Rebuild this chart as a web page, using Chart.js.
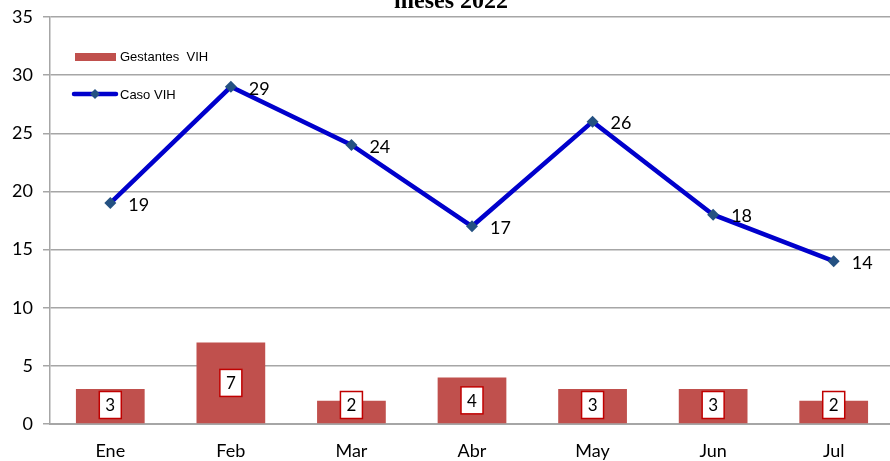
<!DOCTYPE html>
<html>
<head>
<meta charset="utf-8">
<script src="https://cdn.jsdelivr.net/npm/chart.js@4/dist/chart.umd.min.js"></script>
<style>
html,body{margin:0;padding:0;overflow:hidden;background:#fff;}
#wrap{position:absolute;left:0;top:0;width:900px;height:461px;}
</style>
</head>
<body>
<div id="wrap"><canvas id="c" width="900" height="461"></canvas></div>
<script>
const categories = ['Ene','Feb','Mar','Abr','May','Jun','Jul'];
const gestantesVIH = [3,7,2,4,3,3,2];
const casoVIH = [19,29,24,17,26,18,14];
const yTicks = [0,5,10,15,20,25,30,35];
const titleText = 'meses 2022';
const legendLabels = ['Gestantes  VIH','Caso VIH'];

const BAR = '#C0504D', LINE = '#0000CC', MARK = '#245182', GRID = '#A6A6A6';
const TICKFONT = 'Lato, "Open Sans", sans-serif';

const extras = {
  id:'extras',
  afterDatasetsDraw(chart){
    const ctx = chart.ctx;
    const y = chart.scales.y;
    const bm = chart.getDatasetMeta(1);
    bm.data.forEach((el,i)=>{
      const cy = Math.min((el.y+el.base)/2, y.getPixelForValue(0)-19);
      const w=22,h=27;
      ctx.save();
      ctx.fillStyle='#fff';
      ctx.strokeStyle='#C00000';
      ctx.lineWidth=1.5;
      ctx.fillRect(el.x-w/2,cy-h/2,w,h);
      ctx.strokeRect(el.x-w/2,cy-h/2,w,h);
      ctx.fillStyle='#000';
      ctx.font='17px '+TICKFONT;
      ctx.textAlign='center';ctx.textBaseline='middle';
      ctx.fillText(String(gestantesVIH[i]),el.x,cy+1);
      ctx.restore();
    });
    const lm = chart.getDatasetMeta(0);
    lm.data.forEach((el,i)=>{
      ctx.save();
      ctx.fillStyle='#000';
      ctx.font='18px '+TICKFONT;
      ctx.textAlign='left';ctx.textBaseline='middle';
      ctx.fillText(String(casoVIH[i]),el.x+18,el.y+2);
      ctx.restore();
    });
  },
  afterDraw(chart){
    const ctx = chart.ctx;
    ctx.save();
    ctx.fillStyle='#000';
    ctx.font='bold 24px "Liberation Serif", serif';
    ctx.textAlign='center';ctx.textBaseline='alphabetic';
    ctx.fillText(titleText,451,8);
    ctx.fillStyle=BAR;
    ctx.fillRect(75,53,41,8);
    ctx.strokeStyle=LINE;ctx.lineWidth=4.5;ctx.lineCap='round';
    ctx.beginPath();ctx.moveTo(74,94);ctx.lineTo(116,94);ctx.stroke();
    ctx.fillStyle=MARK;
    ctx.beginPath();ctx.moveTo(95,89);ctx.lineTo(100,94);ctx.lineTo(95,99);ctx.lineTo(90,94);ctx.closePath();ctx.fill();
    ctx.fillStyle='#000';
    ctx.font='13px "Liberation Sans Narrow", "Liberation Sans", Arial, sans-serif';
    ctx.textAlign='left';ctx.textBaseline='middle';
    ctx.fillText(legendLabels[0],120,57);
    ctx.fillText(legendLabels[1],120,95);
    ctx.restore();
  }
};

new Chart(document.getElementById('c'),{
  type:'bar',
  data:{
    labels:categories,
    datasets:[
      {type:'line',label:legendLabels[1],data:casoVIH,borderColor:LINE,borderWidth:4.5,
       pointStyle:'rectRot',pointRadius:6,pointBackgroundColor:MARK,pointBorderColor:MARK,
       pointBorderWidth:0,tension:0,order:0},
      {type:'bar',label:legendLabels[0],data:gestantesVIH,backgroundColor:BAR,
       categoryPercentage:1,barPercentage:0.57,order:1}
    ]
  },
  plugins:[extras],
  options:{
    responsive:false,animation:false,
    layout:{padding:{top:17,right:3,left:0,bottom:0}},
    plugins:{legend:{display:false},title:{display:false},tooltip:{enabled:false}},
    scales:{
      x:{
        grid:{display:false},
        border:{display:true,color:GRID,width:2},
        ticks:{color:'#000',font:{family:TICKFONT,size:18},padding:8},
        afterFit(s){s.height=37;s.paddingLeft=0;s.paddingRight=0;}
      },
      y:{
        min:0,max:35,
        afterBuildTicks(s){s.ticks=yTicks.map(v=>({value:v}));},
        grid:{color:GRID,lineWidth:1.5,tickLength:7,drawTicks:true},
        border:{display:true,color:GRID,width:1.5},
        ticks:{color:'#000',font:{family:TICKFONT,size:18},padding:10},
        afterFit(s){s.width=50;s.paddingTop=0;s.paddingBottom=0;}
      }
    }
  }
});
</script>
</body>
</html>
